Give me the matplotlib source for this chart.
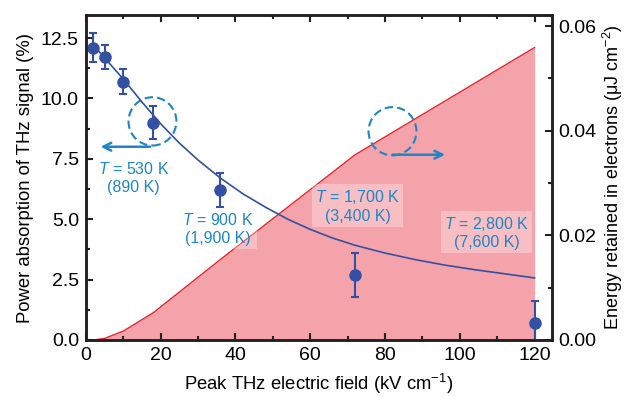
import matplotlib
matplotlib.use('Agg')
import matplotlib.pyplot as plt
from matplotlib.patches import Ellipse

plt.rcParams['font.family'] = ['Liberation Sans', 'DejaVu Sans']
plt.rcParams['mathtext.fontset'] = 'custom'
plt.rcParams['mathtext.rm'] = 'Liberation Sans'
plt.rcParams['mathtext.it'] = 'Liberation Sans:italic'
plt.rcParams['font.size'] = 13.3

# measured absorption points
field = [2, 5, 10, 18, 36, 72, 120]
absorption = [12.1, 11.7, 10.7, 9.0, 6.2, 2.7, 0.7]
abs_err = [0.6, 0.5, 0.5, 0.7, 0.7, 0.9, 0.9]

# model curve
fit_x = [2, 5, 10, 15, 20, 25, 30, 36, 42, 48, 54, 60, 66, 72, 80, 88, 96, 104, 112, 120]
fit_y = [12.2, 11.68, 10.8, 9.85, 8.95, 8.15, 7.45, 6.7, 6.05, 5.5, 5.0, 4.58, 4.22, 3.92,
         3.6, 3.33, 3.1, 2.91, 2.74, 2.57]

# energy retained in electrons (right axis)
energy_x = [2, 5, 10, 18, 36, 72, 120]
energy_y = [0.0, 0.0003, 0.0017, 0.0052, 0.0154, 0.0354, 0.0559]

labels = [r'$T$ = 530 K' + '\n(890 K)', r'$T$ = 900 K' + '\n(1,900 K)',
          r'$T$ = 1,700 K' + '\n(3,400 K)', r'$T$ = 2,800 K' + '\n(7,600 K)']
label_x = [12.8, 35.4, 72.7, 107.2]
label_y = [6.7, 4.6, 5.54, 4.45]

blue = '#3450a3'
cyan = '#1e86c6'
dark = '#231f20'

fig = plt.figure(figsize=(6.27, 3.97), dpi=100)
ax = fig.add_axes([0.137, 0.1436, 0.743, 0.8184])
ax2 = ax.twinx()
ax.set_zorder(ax2.get_zorder() + 1)
ax.patch.set_visible(False)

ax2.fill_between(energy_x, energy_y, 0, color='#f4a3aa', lw=0)
ax2.plot(energy_x, energy_y, color='#ec2028', lw=1.0)
ax2.set_ylim(0, 0.0621)
ax2.set_yticks([0, 0.02, 0.04, 0.06])
ax2.set_yticklabels(['0.00', '0.02', '0.04', '0.06'])
ax2.set_yticks([0.01, 0.03, 0.05], minor=True)
ax2.set_ylabel(r'Energy retained in electrons ($\mathrm{\mu}$J cm$^{-2}$)', labelpad=3,
               fontsize=13)

ax.plot(fit_x, fit_y, color=blue, lw=1.2)
ax.errorbar(field, absorption, yerr=abs_err, fmt='o', color=blue, ms=8,
            elinewidth=1.5, capsize=3, capthick=1.5)

for t, tx, ty in zip(labels, label_x, label_y):
    ax.text(tx, ty, t, color=cyan, ha='center', va='center', multialignment='center',
            fontsize=11.5, linespacing=1.2,
            bbox=dict(boxstyle='square,pad=0.2', fc='white', ec='none', alpha=0.3))

ax.add_patch(Ellipse((17.8, 9.05), 12.8, 2.0, fill=False, ec=cyan, lw=1.5, ls=(0, (4, 2))))
ax.add_patch(Ellipse((82.0, 8.64), 12.8, 2.0, fill=False, ec=cyan, lw=1.5, ls=(0, (4, 2))))
ax.annotate('', xy=(3.2, 8.0), xytext=(17.9, 8.0),
            arrowprops=dict(arrowstyle='->', color=cyan, lw=1.8, mutation_scale=14))
ax.annotate('', xy=(96.8, 7.67), xytext=(81.3, 7.67),
            arrowprops=dict(arrowstyle='->', color=cyan, lw=1.8, mutation_scale=14))

ax.set_xlim(0, 124.6)
ax.set_ylim(0, 13.45)
ax.set_xticks([0, 20, 40, 60, 80, 100, 120])
ax.set_xticks(range(10, 121, 20), minor=True)
ax.set_yticks([0, 2.5, 5, 7.5, 10, 12.5])
ax.set_yticklabels(['0.0', '2.5', '5.0', '7.5', '10.0', '12.5'])
ax.set_yticks([1.25, 3.75, 6.25, 8.75, 11.25], minor=True)
ax.set_xlabel(r'Peak THz electric field (kV cm$^{-1}$)', labelpad=6)
ax.set_ylabel('Power absorption of THz signal (%)', labelpad=5)

for a in (ax, ax2):
    for s in a.spines.values():
        s.set_linewidth(1.8)
        s.set_color(dark)
    a.tick_params(which='major', direction='in', length=5, width=1.5, color=dark,
                  labelsize=14, pad=5)
    a.tick_params(which='minor', direction='in', length=3, width=1.5, color=dark)
ax.tick_params(which='both', top=True)

plt.savefig('out.png', dpi=100)
